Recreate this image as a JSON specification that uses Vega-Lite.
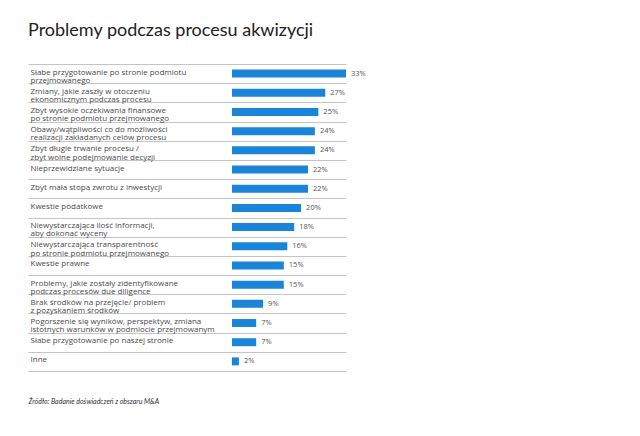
{
  "$schema": "https://vega.github.io/schema/vega-lite/v6.json",
  "width": 318,
  "height": 307,
  "padding": {"left": 28, "top": 22, "right": 5, "bottom": 5},
  "background": "white",
  "config": {"view": {"stroke": null}},
  "title": {
    "text": "Problemy podczas procesu akwizycji",
    "anchor": "start",
    "font": "Lato",
    "fontSize": 18,
    "fontWeight": "normal",
    "color": "#222222",
    "offset": 20
  },
  "data": {
    "values": [
      {"problem": "Słabe przygotowanie po stronie podmiotu\nprzejmowanego", "share": 0.33},
      {"problem": "Zmiany, jakie zaszły w otoczeniu\nekonomicznym podczas procesu", "share": 0.27},
      {"problem": "Zbyt wysokie oczekiwania finansowe\npo stronie podmiotu przejmowanego", "share": 0.25},
      {"problem": "Obawy/wątpliwości co do możliwości\nrealizacji zakładanych celów procesu", "share": 0.24},
      {"problem": "Zbyt długie trwanie procesu /\nzbyt wolne podejmowanie decyzji", "share": 0.24},
      {"problem": "Nieprzewidziane sytuacje", "share": 0.22},
      {"problem": "Zbyt mała stopa zwrotu z inwestycji", "share": 0.22},
      {"problem": "Kwestie podatkowe", "share": 0.20},
      {"problem": "Niewystarczająca ilość informacji,\naby dokonać wyceny", "share": 0.18},
      {"problem": "Niewystarczająca transparentność\npo stronie podmiotu przejmowanego", "share": 0.16},
      {"problem": "Kwestie prawne", "share": 0.15},
      {"problem": "Problemy, jakie zostały zidentyfikowane\npodczas procesów due diligence", "share": 0.15},
      {"problem": "Brak środków na przejęcie/ problem\nz pozyskaniem środków", "share": 0.09},
      {"problem": "Pogorszenie się wyników, perspektyw, zmiana\nistotnych warunków w podmiocie przejmowanym", "share": 0.07},
      {"problem": "Słabe przygotowanie po naszej stronie", "share": 0.07},
      {"problem": "Inne", "share": 0.02}
    ]
  },
  "encoding": {
    "y": {
      "field": "problem",
      "type": "nominal",
      "sort": null,
      "scale": {"paddingInner": 0, "paddingOuter": 0},
      "axis": {
        "title": null,
        "domain": false,
        "ticks": false,
        "tickSize": 0,
        "minExtent": 0,
        "grid": true,
        "tickBand": "extent",
        "gridColor": "#c4c4c4",
        "gridWidth": 1,
        "labelAlign": "left",
        "labelPadding": -2,
        "labelOffset": -1.5,
        "labelLimit": 400,
        "labelFont": "Open Sans",
        "labelFontSize": 8,
        "labelLineHeight": 8.3,
        "labelColor": "#4a4a4a",
        "labelExpr": "split(datum.label, '\\n')"
      }
    },
    "x": {
      "field": "share",
      "type": "quantitative",
      "scale": {"domain": [-0.5905, 0.33], "nice": false, "zero": false},
      "axis": {
        "labels": false,
        "ticks": false,
        "domain": false,
        "grid": false,
        "minExtent": 0,
        "title": "Źródło: Badanie doświadczeń z obszaru M&A",
        "titleAnchor": "start",
        "titleFont": "Lato",
        "titleFontStyle": "italic",
        "titleFontWeight": "normal",
        "titleFontSize": 7,
        "titleColor": "#333333",
        "titlePadding": 26
      }
    }
  },
  "layer": [
    {
      "mark": {"type": "bar", "color": "#1a85d8", "size": 8},
      "encoding": {"x2": {"datum": 0}}
    },
    {
      "mark": {"type": "text", "align": "left", "dx": 5, "font": "Open Sans", "fontSize": 7.5, "color": "#555555"},
      "encoding": {"text": {"field": "share", "type": "quantitative", "format": ".0%"}}
    }
  ]
}
